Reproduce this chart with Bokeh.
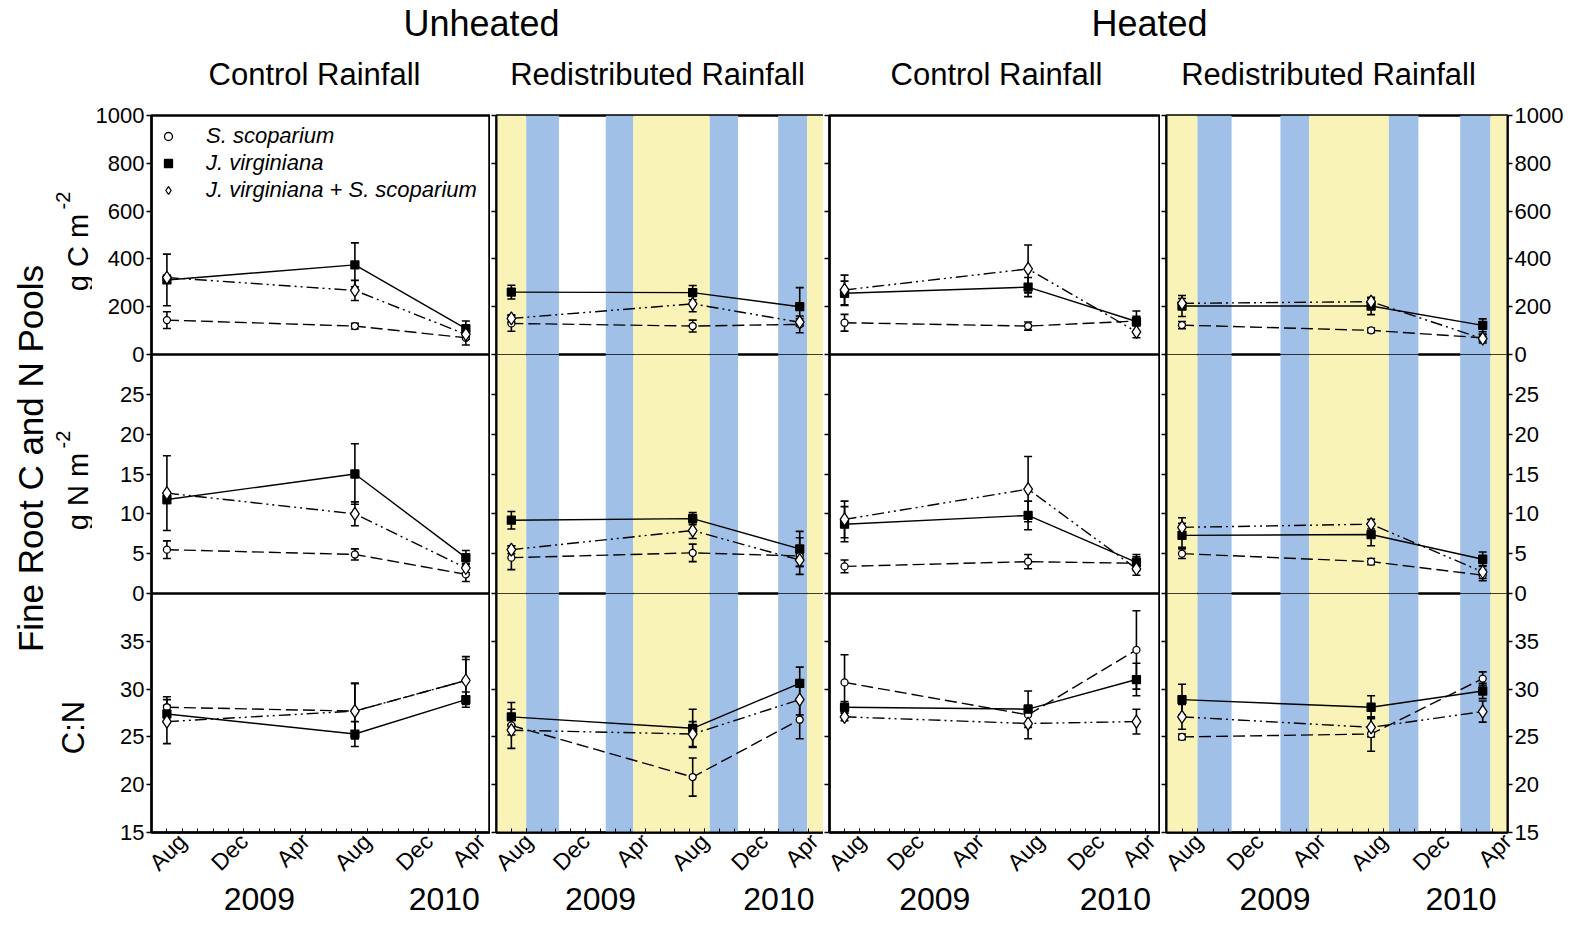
import math
from bokeh.plotting import figure
from bokeh.models import (Range1d, FixedTicker, LinearAxis, BoxAnnotation, Legend,
                          LegendItem, ColumnDataSource)
from bokeh.layouts import column, row
from bokeh.embed import file_html
from bokeh.resources import INLINE
from bokeh.core.properties import value

FONT = "Liberation Sans"

# ---------------- data ----------------
# sampling dates, in months after June 2008
sample_month = [1.0, 13.2, 20.4]
month_ticks = [2, 6, 10, 14, 18, 22]
month_labels = ["Aug", "Dec", "Apr", "Aug", "Dec", "Apr"]
year_ticks = [7, 19]
year_labels = ["2009", "2010"]

warming_labels = ["Unheated", "Heated"]
rainfall_labels = ["Control Rainfall", "Redistributed Rainfall",
                   "Control Rainfall", "Redistributed Rainfall"]
series_names = ["S. scoparium", "J. virginiana", "J. virginiana + S. scoparium"]

# shaded periods in the redistributed-rainfall panels (months after June 2008)
band_start = [0.0, 2.0, 7.35, 9.2, 14.35, 18.95, 20.9]
band_end = [2.0, 4.2, 9.2, 14.35, 16.25, 20.9, 22.0]
band_kind = ["yellow", "blue", "blue", "yellow", "blue", "blue", "yellow"]

# panel order: Unheated-Control, Unheated-Redistributed, Heated-Control, Heated-Redistributed
# fine root C pool (g C m-2), mean and error
c_ss = [[144, 119, 70], [130, 119, 126], [133, 119, 140], [123, 101, 70]]
c_ss_err = [[35, 12, 30], [33, 25, 35], [35, 17, 20], [15, 10, 15]]
c_jv = [[312, 375, 108], [261, 259, 200], [256, 282, 138], [203, 203, 122]]
c_jv_err = [[108, 92, 32], [29, 30, 80], [51, 40, 44], [44, 36, 27]]
c_mix = [[322, 268, 84], [151, 212, 135], [270, 358, 95], [214, 221, 66]]
c_mix_err = [[10, 42, 20], [15, 33, 15], [62, 100, 25], [20, 15, 18]]

# fine root N pool (g N m-2)
n_ss = [[5.5, 4.9, 2.4], [4.5, 5.1, 4.7], [3.4, 4.0, 3.8], [5.0, 4.0, 2.3]]
n_ss_err = [[1.1, 0.7, 0.9], [1.5, 1.1, 2.3], [0.8, 0.9, 0.8], [0.6, 0.4, 0.7]]
n_jv = [[11.8, 15.0, 4.5], [9.2, 9.4, 5.6], [8.7, 9.8, 3.9], [7.3, 7.4, 4.3]]
n_jv_err = [[0.5, 3.8, 0.9], [1.1, 0.75, 2.2], [2.2, 1.8, 1.0], [1.5, 1.4, 0.9]]
n_mix = [[12.6, 10.0, 3.2], [5.5, 7.9, 4.2], [9.3, 13.1, 3.1], [8.3, 8.7, 2.7]]
n_mix_err = [[4.7, 1.5, 0.6], [0.5, 1.0, 0.8], [2.3, 4.1, 0.8], [1.2, 0.6, 0.8]]

# C:N ratio
cn_ss = [[28.1, 27.7, 30.9], [26.2, 20.8, 26.8], [30.7, 27.3, 34.1], [25.0, 25.3, 31.1]]
cn_ss_err = [[1.1, 2.9, 2.2], [2.4, 2.0, 2.0], [2.9, 1.0, 4.1], [0.3, 1.8, 0.7]]
cn_jv = [[27.4, 25.3, 28.9], [27.1, 25.9, 30.6], [28.1, 27.9, 31.0], [28.9, 28.1, 29.8]]
cn_jv_err = [[0.9, 1.3, 0.8], [0.8, 2.0, 1.7], [0.6, 1.9, 1.7], [1.6, 1.2, 0.8]]
cn_mix = [[26.6, 27.7, 30.9], [25.7, 25.3, 28.9], [27.1, 26.4, 26.6], [27.1, 26.0, 27.65]]
cn_mix_err = [[2.3, 2.9, 2.5], [0.5, 1.3, 1.6], [0.4, 1.6, 1.3], [1.3, 1.0, 1.1]]

c_ticks = [0, 200, 400, 600, 800, 1000]
n_ticks = [0, 5, 10, 15, 20, 25]
cn_ticks = [15, 20, 25, 30, 35]

# ---------------- layout / style ----------------
BAND_COLORS = {"yellow": "#F9F3B8", "blue": "#A0C0E8"}
LEFT_W = 92
FRAME_W = [339, 327, 331, 341]
BORDER_L = [59, 6, 6, 6]
BORDER_R = [0, 0, 0, 78]
FRAME_H = 239
ROW_BT = [14, 0, 0]
ROW_BB = [12, 12, 93]
OVERLAP = 12
HDR_H = 101

row_specs = [
    dict(lo=0, hi=1000, ticks=c_ticks, data=(c_ss, c_ss_err, c_jv, c_jv_err, c_mix, c_mix_err)),
    dict(lo=0, hi=30, ticks=n_ticks, data=(n_ss, n_ss_err, n_jv, n_jv_err, n_mix, n_mix_err)),
    dict(lo=15, hi=40, ticks=cn_ticks, data=(cn_ss, cn_ss_err, cn_jv, cn_jv_err, cn_mix, cn_mix_err)),
]
series_style = [
    dict(marker="circle", size=7, fill="white", dash="12 5"),
    dict(marker="square", size=8, fill="black", dash="solid"),
    dict(marker="diamond", size=13, fill="white", dash="12 4 2 4 2 4"),
]


def style_y(ax, ticks, labels):
    ax.ticker = FixedTicker(ticks=ticks, minor_ticks=[])
    ax.axis_line_color = "black"
    ax.axis_line_width = 2
    ax.major_tick_line_color = "black"
    ax.major_tick_line_width = 1.5
    ax.major_tick_out = 5
    ax.major_tick_in = 0
    ax.minor_tick_line_color = None
    if labels:
        ax.major_label_text_font = FONT
        ax.major_label_text_font_size = "22px"
        ax.major_label_text_color = "black"
        ax.major_label_standoff = 2
    else:
        ax.major_label_text_font_size = "1px"
        ax.major_label_text_color = None
        ax.major_label_standoff = 0


def make_panel(r, c):
    spec = row_specs[r]
    w = BORDER_L[c] + FRAME_W[c] + BORDER_R[c]
    h = ROW_BT[r] + FRAME_H + ROW_BB[r]
    p = figure(width=w, height=h, x_range=Range1d(0, 22),
               y_range=Range1d(spec["lo"], spec["hi"]),
               output_backend="svg", toolbar_location=None,
               x_axis_location="below" if r == 2 else None, y_axis_location="left",
               min_border_left=BORDER_L[c], min_border_right=BORDER_R[c],
               min_border_top=ROW_BT[r], min_border_bottom=ROW_BB[r])
    p.grid.visible = False
    p.outline_line_color = "black"
    p.outline_line_width = 2.5
    p.outline_line_alpha = 1
    p.background_fill_color = "white"
    if r > 0:
        p.border_fill_color = None
    style_y(p.yaxis[0], spec["ticks"], c == 0)
    if c == 3:
        ra = LinearAxis()
        style_y(ra, spec["ticks"], True)
        p.add_layout(ra, "right")

    if r == 2:
        xa = p.xaxis[0]
        xa.ticker = FixedTicker(ticks=month_ticks, minor_ticks=list(range(0, 23)))
        xa.major_label_overrides = dict(zip(month_ticks, month_labels))
        xa.major_label_orientation = math.pi / 4
        xa.major_label_text_font = FONT
        xa.major_label_text_font_size = "23px"
        xa.major_label_text_color = "black"
        xa.major_label_standoff = 5
        xa.axis_line_width = 2
        xa.major_tick_in = 4
        xa.major_tick_out = 0
        xa.minor_tick_in = 4
        xa.minor_tick_out = 0
        xa.major_tick_line_width = 1
        xa.minor_tick_line_width = 1
        ya2 = LinearAxis(ticker=FixedTicker(ticks=year_ticks, minor_ticks=[]),
                         major_label_overrides=dict(zip(year_ticks, year_labels)))
        ya2.axis_line_color = None
        ya2.major_tick_line_color = None
        ya2.minor_tick_line_color = None
        ya2.major_tick_in = 0
        ya2.major_tick_out = 0
        ya2.major_label_standoff = 0
        ya2.major_label_text_font = FONT
        ya2.major_label_text_font_size = "32px"
        ya2.major_label_text_color = "black"
        p.add_layout(ya2, "below")

    if c in (1, 3):
        for s, e, k in zip(band_start, band_end, band_kind):
            p.add_layout(BoxAnnotation(left=s, right=e, fill_color=BAND_COLORS[k],
                                       fill_alpha=1, line_color=None, level="underlay"))

    vals = spec["data"]
    sources = []
    for k in range(3):
        y = vals[2 * k][c]
        e = vals[2 * k + 1][c]
        sources.append(ColumnDataSource(dict(
            x=sample_month, y=y,
            lower=[a - b for a, b in zip(y, e)],
            upper=[a + b for a, b in zip(y, e)])))
    for k in range(3):
        p.line("x", "y", source=sources[k], line_color="black", line_width=1.4,
               line_dash=series_style[k]["dash"])
    for k in range(3):
        p.segment(x0="x", y0="lower", x1="x", y1="upper", source=sources[k],
                  line_color="black", line_width=1.6)
        p.scatter("x", "lower", source=sources[k], marker="dash", size=8,
                  line_color="black", line_width=1.6)
        p.scatter("x", "upper", source=sources[k], marker="dash", size=8,
                  line_color="black", line_width=1.6)
    marks = []
    for k in range(3):
        st = series_style[k]
        marks.append(p.scatter("x", "y", source=sources[k], marker=st["marker"], size=st["size"],
                               fill_color=st["fill"], line_color="black", line_width=1.3))
    if r == 0 and c == 0:
        leg = Legend(items=[LegendItem(label=n, renderers=[m]) for n, m in zip(series_names, marks)],
                     location="top_left")
        leg.label_text_font = FONT
        leg.label_text_font_style = "italic"
        leg.label_text_font_size = "22px"
        leg.label_text_color = "black"
        leg.glyph_width = 20
        leg.glyph_height = 20
        leg.label_height = 27
        leg.label_standoff = 28
        leg.spacing = 0
        leg.padding = 7
        leg.margin = 0
        leg.border_line_alpha = 0
        leg.background_fill_alpha = 0
        p.add_layout(leg)
    return p


def text_canvas(w, h):
    p = figure(width=w, height=h, x_range=Range1d(0, w), y_range=Range1d(0, h),
               output_backend="svg", toolbar_location=None, min_border=0,
               x_axis_location=None, y_axis_location=None)
    p.grid.visible = False
    p.outline_line_color = None
    return p


# header
hdr = text_canvas(1585, HDR_H)
hdr.text(x=[481, 1149], y=[HDR_H - 23] * 2, text=warming_labels, text_font=value(FONT),
         text_font_size="36px", text_align="center", text_baseline="middle", text_color="black")
hdr.text(x=[314, 657, 996, 1328], y=[HDR_H - 74] * 4, text=rainfall_labels, text_font=value(FONT),
         text_font_size="31px", text_align="center", text_baseline="middle", text_color="black")

# left titles
GRID_H = (ROW_BT[0] + FRAME_H + ROW_BB[0]) + (FRAME_H + ROW_BB[1]) + (FRAME_H + ROW_BB[2]) - 2 * OVERLAP
left = text_canvas(LEFT_W, GRID_H)
TOP = HDR_H + GRID_H
left.text(x=[30], y=[TOP - 458], text=["Fine Root C and N Pools"], angle=math.pi / 2,
          text_font=value(FONT), text_font_size="35px", text_align="center",
          text_baseline="middle", text_color="black")
left.text(x=[77, 77], y=[TOP - 252, TOP - 491], text=["g C m", "g N m"], angle=math.pi / 2,
          text_font=value(FONT), text_font_size="29px", text_align="center",
          text_baseline="middle", text_color="black")
left.text(x=[62, 62], y=[TOP - 200, TOP - 439], text=["-2", "-2"], angle=math.pi / 2,
          text_font=value(FONT), text_font_size="20px", text_align="center",
          text_baseline="middle", text_color="black")
left.text(x=[73], y=[TOP - 727], text=["C:N"], angle=math.pi / 2,
          text_font=value(FONT), text_font_size="31px", text_align="center",
          text_baseline="middle", text_color="black")

grid_rows = []
for r in range(3):
    figs = [make_panel(r, c) for c in range(4)]
    if r > 0:
        grid_rows.append(row(*figs, styles={"margin-top": f"-{OVERLAP}px"}))
    else:
        grid_rows.append(row(*figs))

layout = column(hdr, row(left, column(*grid_rows)))

with open("out.html", "w") as f:
    f.write(file_html(layout, INLINE))
